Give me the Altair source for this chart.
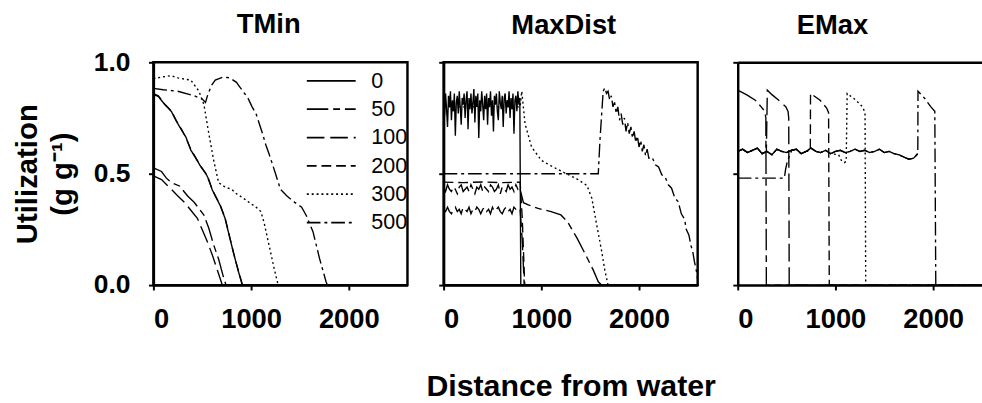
import altair as alt
import pandas as pd

FONT = "Liberation Sans"

PANELS = ["TMin", "MaxDist", "EMax"]
PANEL_DX = [-12, -7, -28]
PANEL_DY = [12, 0, 0]
SERIES = ["0", "50", "100", "200", "300", "500"]
DASHES = [[1, 0], [22, 5, 7, 5], [18, 6], [10, 5], [2, 3], [14, 4, 3, 4]]
X_TICKS = [0, 1000, 2000]
Y_TICKS = [0.0, 0.5, 1.0]
X_MAX = [2600, 2600, 2500]
PANEL_W = [260, 260, 250]

# ---------------- TMin ----------------
tmin_0 = [(0, 0.855), (50, 0.847), (117, 0.81), (183, 0.78), (233, 0.737), (283, 0.70),
          (333, 0.664), (383, 0.606), (433, 0.57), (483, 0.533), (533, 0.504), (567, 0.474),
          (600, 0.43), (633, 0.40), (683, 0.358), (733, 0.30), (783, 0.21), (823, 0.139),
          (867, 0.066), (910, 0.0), (2600, 0.0)]
tmin_50 = [(0, 0.526), (83, 0.51), (133, 0.48), (183, 0.46), (267, 0.445), (350, 0.40),
           (417, 0.372), (467, 0.343), (517, 0.314), (567, 0.255), (617, 0.18), (667, 0.117),
           (717, 0.036), (743, 0.0), (2600, 0.0)]
tmin_100 = [(0, 0.49), (83, 0.474), (183, 0.43), (250, 0.40), (317, 0.372), (383, 0.336),
            (450, 0.30), (500, 0.248), (550, 0.197), (600, 0.139), (650, 0.073), (700, 0.007),
            (710, 0.0), (2600, 0.0)]
tmin_200 = [(0, 0.86), (50, 0.85), (117, 0.812), (183, 0.782), (233, 0.74), (283, 0.702),
            (333, 0.662), (383, 0.608), (433, 0.572), (483, 0.535), (533, 0.502), (567, 0.47),
            (600, 0.432), (633, 0.402), (683, 0.36), (733, 0.302), (783, 0.212), (823, 0.14),
            (867, 0.068), (912, 0.0), (2600, 0.0)]
tmin_300 = [(0, 0.927), (100, 0.935), (183, 0.94), (250, 0.93), (383, 0.92), (467, 0.87),
            (500, 0.83), (517, 0.81), (540, 0.75), (567, 0.68), (617, 0.56), (667, 0.46),
            (733, 0.44), (800, 0.43), (850, 0.41), (920, 0.39), (983, 0.37), (1050, 0.35),
            (1100, 0.33), (1133, 0.28), (1183, 0.18), (1233, 0.08), (1277, 0.0), (2600, 0.0)]
tmin_500 = [(0, 0.883), (100, 0.877), (250, 0.87), (417, 0.85), (500, 0.835), (533, 0.82),
            (560, 0.86), (600, 0.90), (633, 0.92), (717, 0.934), (783, 0.93), (850, 0.91),
            (883, 0.89), (933, 0.86), (967, 0.84), (1010, 0.80), (1050, 0.77), (1117, 0.68),
            (1150, 0.63), (1183, 0.59), (1250, 0.50), (1300, 0.43), (1367, 0.40), (1450, 0.37),
            (1517, 0.35), (1567, 0.31), (1633, 0.24), (1700, 0.12), (1767, 0.015), (1780, 0.0),
            (2600, 0.0)]

# ---------------- MaxDist ----------------
md_grid_10 = list(range(0, 790, 10))
md_grid_20 = list(range(0, 790, 20))
md_0_band_y = [0.84, 0.76, 0.86, 0.79, 0.71, 0.85, 0.80, 0.87, 0.74, 0.83,
               0.78, 0.86, 0.67, 0.82, 0.85, 0.77, 0.87, 0.80, 0.72, 0.84,
               0.81, 0.86, 0.75, 0.83, 0.87, 0.70, 0.84, 0.79, 0.86, 0.77,
               0.82, 0.88, 0.73, 0.85, 0.80, 0.86, 0.66, 0.83, 0.78, 0.87,
               0.81, 0.74, 0.85, 0.79, 0.86, 0.72, 0.84, 0.80, 0.87, 0.76,
               0.83, 0.69, 0.85, 0.81, 0.86, 0.78, 0.74, 0.87, 0.82, 0.79,
               0.85, 0.71, 0.84, 0.86, 0.77, 0.83, 0.80, 0.87, 0.75, 0.84,
               0.79, 0.86, 0.68, 0.83, 0.85, 0.78, 0.87, 0.81, 0.84]
md_0_tail = [(790, 0.0), (2600, 0.0)]
md_50_band_y = [0.44, 0.42, 0.45, 0.43, 0.42, 0.44, 0.43, 0.41, 0.44, 0.45,
                0.42, 0.43, 0.44, 0.42, 0.45, 0.43, 0.41, 0.44, 0.43, 0.45,
                0.42, 0.44, 0.43, 0.42, 0.45, 0.44, 0.42, 0.43, 0.45, 0.41,
                0.44, 0.43, 0.42, 0.45, 0.43, 0.44, 0.42, 0.45, 0.43, 0.44]
md_50_tail = [(783, 0.43), (800, 0.40), (817, 0.37), (867, 0.36), (967, 0.344), (1100, 0.33),
              (1200, 0.315), (1267, 0.285), (1367, 0.21), (1467, 0.124), (1533, 0.066),
              (1583, 0.015), (1617, 0.0), (2600, 0.0)]
md_100_band_y = [0.34, 0.33, 0.35, 0.33, 0.32, 0.34, 0.35, 0.33, 0.34, 0.32,
                 0.35, 0.34, 0.33, 0.35, 0.32, 0.34, 0.33, 0.35, 0.34, 0.32,
                 0.34, 0.35, 0.33, 0.34, 0.32, 0.35, 0.33, 0.34, 0.35, 0.33,
                 0.32, 0.34, 0.35, 0.33, 0.34, 0.32, 0.35, 0.34, 0.33, 0.34]
md_100_tail = [(783, 0.34), (805, 0.20), (825, 0.0), (2600, 0.0)]
md_200 = [(0, 0.462), (200, 0.46), (400, 0.463), (600, 0.46), (783, 0.462), (805, 0.30),
          (830, 0.0), (2600, 0.0)]
md_300 = [(0, 0.80), (200, 0.80), (400, 0.80), (600, 0.80), (783, 0.80), (800, 0.87),
          (833, 0.725), (900, 0.62), (1000, 0.56), (1100, 0.535), (1233, 0.505), (1367, 0.476),
          (1467, 0.447), (1517, 0.39), (1567, 0.27), (1617, 0.154), (1650, 0.066), (1683, 0.0),
          (2600, 0.0)]
md_500 = [(0, 0.50), (1583, 0.50), (1600, 0.65), (1633, 0.87), (1650, 0.886), (1667, 0.86),
          (1683, 0.87), (1700, 0.83), (1717, 0.85), (1733, 0.80), (1750, 0.82), (1767, 0.77),
          (1783, 0.80), (1800, 0.74), (1817, 0.77), (1833, 0.72), (1850, 0.75), (1867, 0.69),
          (1883, 0.73), (1900, 0.68), (1917, 0.71), (1933, 0.66), (1950, 0.69), (1967, 0.64),
          (1983, 0.67), (2000, 0.62), (2017, 0.65), (2033, 0.60), (2050, 0.63), (2067, 0.58),
          (2083, 0.61), (2100, 0.57), (2133, 0.575), (2167, 0.54), (2200, 0.53), (2233, 0.495),
          (2267, 0.485), (2300, 0.45), (2333, 0.435), (2367, 0.39), (2400, 0.375), (2433, 0.32),
          (2467, 0.295), (2483, 0.25), (2510, 0.225), (2533, 0.175), (2550, 0.15), (2567, 0.105),
          (2593, 0.05), (2607, 0.0)]

# ---------------- EMax ----------------
em_band_x = [0, 50, 100, 150, 200, 250, 300, 350, 400, 450, 500, 550, 600, 650, 700, 750, 800,
             850, 900, 950, 1000, 1050, 1100, 1150, 1200, 1250, 1300, 1350, 1400, 1450, 1500,
             1550, 1600, 1650, 1700, 1750, 1800, 1850]
em_band_y = [0.60, 0.61, 0.595, 0.605, 0.615, 0.59, 0.60, 0.585, 0.61, 0.60, 0.595, 0.605, 0.61,
             0.59, 0.60, 0.615, 0.60, 0.595, 0.605, 0.59, 0.60, 0.605, 0.595, 0.60, 0.61, 0.60,
             0.605, 0.595, 0.60, 0.61, 0.595, 0.60, 0.59, 0.585, 0.575, 0.565, 0.57, 0.59]
em_50 = [(0, 0.875), (93, 0.854), (180, 0.83), (240, 0.80), (277, 0.78), (288, 0.75), (293, 0.0),
         (2500, 0.0)]
em_100_tail = [(293, 0.60), (303, 0.875), (350, 0.855), (420, 0.83), (493, 0.80), (515, 0.78),
               (522, 0.75), (527, 0.0), (2500, 0.0)]
em_200_tail = [(743, 0.60), (745, 0.86), (843, 0.83), (910, 0.795), (930, 0.774), (937, 0.0),
               (2500, 0.0)]
em_300_tail = [(1033, 0.585), (1060, 0.56), (1090, 0.55), (1110, 0.555), (1120, 0.86),
               (1210, 0.83), (1277, 0.80), (1303, 0.774), (1310, 0.0), (2500, 0.0)]
em_500_head = [(0, 0.48), (477, 0.48), (490, 0.52), (510, 0.56), (543, 0.59)]
em_500_tail = [(1843, 0.59), (1845, 0.87), (1910, 0.84), (1977, 0.80), (2017, 0.78),
               (2027, 0.0), (2500, 0.0)]

# ---------------- build table ----------------
rows = []


def add(panel, series, pts):
    for k, (x, y) in enumerate(pts):
        rows.append({"panel": panel, "series": series, "order": k, "x": x, "y": y})


def band(xs, ys, lo=-1, hi=10 ** 6):
    return [(x, y) for x, y in zip(xs, ys) if lo < x < hi]


add("TMin", "0", tmin_0)
add("TMin", "50", tmin_50)
add("TMin", "100", tmin_100)
add("TMin", "200", tmin_200)
add("TMin", "300", tmin_300)
add("TMin", "500", tmin_500)

add("MaxDist", "0", band(md_grid_10, md_0_band_y) + md_0_tail)
add("MaxDist", "50", band(md_grid_20, md_50_band_y) + md_50_tail)
add("MaxDist", "100", band(md_grid_20, md_100_band_y) + md_100_tail)
add("MaxDist", "200", md_200)
add("MaxDist", "300", md_300)
add("MaxDist", "500", md_500)

add("EMax", "0", band(em_band_x, em_band_y, hi=1843) + [(1843, 0.59)])
add("EMax", "50", em_50)
add("EMax", "100", band(em_band_x, em_band_y, hi=293) + em_100_tail)
add("EMax", "200", band(em_band_x, em_band_y, hi=743) + em_200_tail)
add("EMax", "300", band(em_band_x, em_band_y, hi=1000) + em_300_tail)
add("EMax", "500", em_500_head + band(em_band_x, em_band_y, lo=543, hi=1843) + em_500_tail)

df = pd.DataFrame(rows)


def make_panel(i):
    name = PANELS[i]
    data = df[df.panel == name]
    xs = alt.Scale(domain=[0, X_MAX[i]], nice=False, zero=False)
    ys = alt.Scale(domain=[0, 1], nice=False, zero=False)
    first = i == 0
    if first:
        y_axis = alt.Axis(values=Y_TICKS, format=".1f", title=["Utilization", "(g g⁻¹)"],
                          labelPadding=19, titlePadding=16, titleLineHeight=36)
    else:
        y_axis = alt.Axis(values=Y_TICKS, labels=False, title=None)
    if i == 1:
        x_axis = alt.Axis(values=X_TICKS, format="d", title="Distance from water",
                          titlePadding=40, titleFontSize=31)
    else:
        x_axis = alt.Axis(values=X_TICKS, format="d", title=None)
    if first:
        legend = alt.Legend(orient="none", legendX=164, legendY=1, title=None,
                            symbolType="M-1.5,0H1.5", symbolSize=1111, symbolStrokeWidth=1.8,
                            symbolStrokeColor="black", symbolFillColor="transparent",
                            labelFontSize=22, labelFont=FONT,
                            labelFontWeight="normal", labelColor="black", rowPadding=0,
                            labelOffset=23, padding=0)
    else:
        legend = None
    line = alt.Chart(data).mark_line(color="black", strokeWidth=1.4, clip=True).encode(
        x=alt.X("x:Q", scale=xs, axis=x_axis),
        y=alt.Y("y:Q", scale=ys, axis=y_axis),
        strokeDash=alt.StrokeDash("series:N", sort=SERIES,
                                  scale=alt.Scale(domain=SERIES, range=DASHES),
                                  legend=legend),
        order="order:Q",
    )
    title = alt.TitleParams(text=name, anchor="middle", frame="group", dx=PANEL_DX[i],
                            dy=PANEL_DY[i])
    if i == 2:
        top = alt.Chart(data).mark_line(opacity=0).encode(
            x=alt.X("x:Q", scale=xs, axis=alt.Axis(orient="top", labels=False, ticks=False,
                                                   title=None, domainWidth=2.5)),
            y=alt.Y("y:Q", scale=ys, axis=y_axis),
        )
        return alt.layer(line, top).resolve_axis(x="independent").properties(
            width=PANEL_W[i], height=228, title=title,
            view=alt.ViewBackground(strokeOpacity=0))
    return line.properties(width=PANEL_W[i], height=228, title=title)


chart = alt.hconcat(make_panel(0), make_panel(1), make_panel(2), spacing=15).resolve_legend(
    strokeDash="independent"
).properties(
    padding={"left": 12, "top": 5, "right": 0, "bottom": 0}
).configure_view(
    stroke="black", strokeWidth=2.5
).configure_axis(
    domainColor="black", domainWidth=2.5, tickColor="black", tickWidth=2, tickSize=5,
    labelFont=FONT, labelFontSize=27, labelFontWeight="bold", labelColor="black",
    titleFont=FONT, titleFontSize=30, titleFontWeight="bold", titleColor="black", grid=False
).configure_axisX(labelPadding=16, labelFontSize=28).configure_title(
    font=FONT, fontSize=28, fontWeight="bold", color="black", offset=22
)

chart.save("out.html", embed_options={"renderer": "svg", "actions": False})
